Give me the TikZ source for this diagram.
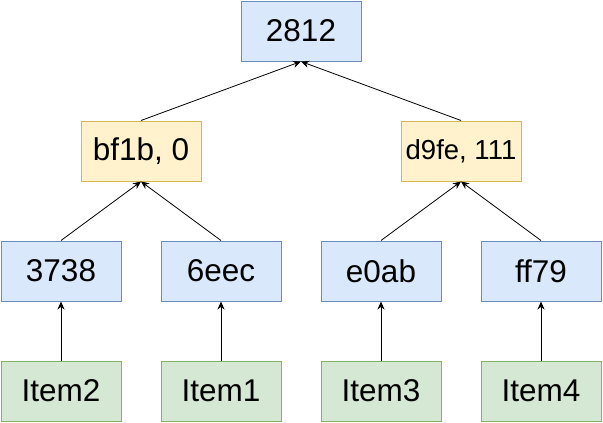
\documentclass[tikz,border=0pt]{standalone}
\usepackage{fontspec}
\setmainfont{Liberation Sans}
\usetikzlibrary{arrows.meta}
\definecolor{bfill}{HTML}{DAE8FC}
\definecolor{bline}{HTML}{6C8EBF}
\definecolor{yfill}{HTML}{FFF2CC}
\definecolor{yline}{HTML}{D6B656}
\definecolor{gfill}{HTML}{D5E8D4}
\definecolor{gline}{HTML}{82B366}
\begin{document}
\begin{tikzpicture}[x=1pt,y=-1pt,
  box/.style={draw, line width=1pt, minimum width=120pt, minimum height=60pt, inner sep=0pt, font=\fontsize{31.5}{36}\selectfont},
  hashbox/.style={box, fill=bfill, draw=bline},
  pairbox/.style={box, fill=yfill, draw=yline},
  itembox/.style={box, fill=gfill, draw=gline},
  arr/.style={draw=black, line width=0.8pt, -{Stealth[length=8pt,width=7pt]}}
]
\useasboundingbox (0,0) rectangle (603,423);
\node[hashbox] (r) at (301,31) {2812};
\node[pairbox] (p1) at (141,151) {bf1b, 0};
\node[pairbox, font=\fontsize{27.5}{30}\selectfont] (p2) at (461,151) {d9fe, 111};
\node[hashbox] (h1) at (61,271) {3738};
\node[hashbox] (h2) at (221,271) {6eec};
\node[hashbox] (h3) at (381,271) {e0ab};
\node[hashbox] (h4) at (541,271) {ff79};
\node[itembox] (i2) at (61,391) {Item2};
\node[itembox] (i1) at (221,391) {Item1};
\node[itembox] (i3) at (381,391) {Item3};
\node[itembox] (i4) at (541,391) {Item4};
\draw[arr] (p1.north) -- (r.south);
\draw[arr] (p2.north) -- (r.south);
\draw[arr] (h1.north) -- (p1.south);
\draw[arr] (h2.north) -- (p1.south);
\draw[arr] (h3.north) -- (p2.south);
\draw[arr] (h4.north) -- (p2.south);
\draw[arr] (i2.north) -- (h1.south);
\draw[arr] (i1.north) -- (h2.south);
\draw[arr] (i3.north) -- (h3.south);
\draw[arr] (i4.north) -- (h4.south);
\end{tikzpicture}
\end{document}
